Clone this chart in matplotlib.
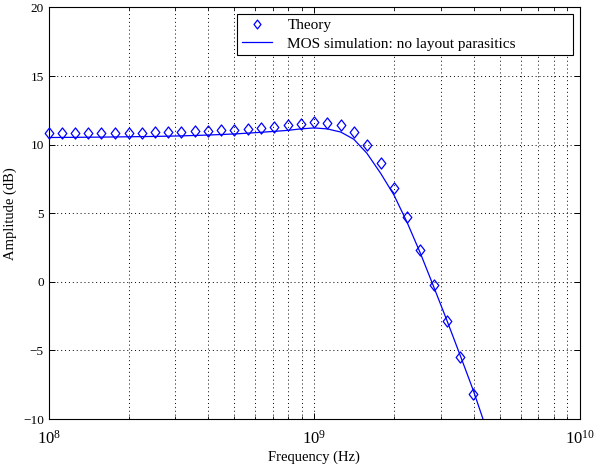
import numpy as np
import matplotlib
matplotlib.use("Agg")
import matplotlib.pyplot as plt
from matplotlib.path import Path

# theory points, 20 per decade (Hz) and amplitude (dB)
theory_freq = [1.00e8, 1.12e8, 1.26e8, 1.41e8, 1.58e8, 1.78e8, 2.00e8, 2.24e8,
               2.51e8, 2.82e8, 3.16e8, 3.55e8, 3.98e8, 4.47e8, 5.01e8, 5.62e8,
               6.31e8, 7.08e8, 7.94e8, 8.91e8, 1.00e9, 1.12e9, 1.26e9, 1.41e9,
               1.58e9, 1.78e9, 2.00e9, 2.24e9, 2.51e9, 2.82e9, 3.16e9, 3.55e9,
               3.98e9]
theory_db = [10.83, 10.83, 10.83, 10.84, 10.85, 10.85, 10.86, 10.88,
             10.89, 10.92, 10.94, 10.97, 11.00, 11.04, 11.08, 11.14,
             11.22, 11.32, 11.43, 11.53, 11.62, 11.57, 11.40, 10.90,
             10.00, 8.68, 6.86, 4.70, 2.30, -0.25, -2.82, -5.47,
             -8.16]

# MOS simulation curve
sim_freq = [1.00e8, 1.58e8, 2.51e8, 3.16e8, 3.98e8, 5.01e8, 6.31e8, 7.94e8,
            8.91e8, 1.00e9, 1.12e9, 1.26e9, 1.41e9, 1.58e9, 1.78e9, 2.00e9,
            2.24e9, 2.51e9, 2.82e9, 3.16e9, 3.55e9, 3.98e9, 4.47e9]
sim_db = [10.52, 10.55, 10.60, 10.64, 10.70, 10.78, 10.90, 11.04,
          11.15, 11.22, 11.15, 10.92, 10.40, 9.38, 7.92, 6.32,
          4.34, 2.12, -0.34, -2.78, -5.35, -7.92, -10.8]

plt.rcParams["font.family"] = ["Liberation Serif", "DejaVu Serif"]
plt.rcParams["mathtext.fontset"] = "stix"

# slightly tall diamond, like the matlab one
diamond = Path([(0, 1), (0.78, 0), (0, -1), (-0.78, 0), (0, 1)],
               [Path.MOVETO, Path.LINETO, Path.LINETO, Path.LINETO, Path.CLOSEPOLY])

fig = plt.figure(figsize=(5.97, 4.68), dpi=100)
ax = fig.add_axes([0.0816, 0.1047, 0.8891, 0.8793])

ax.plot(theory_freq, theory_db, linestyle="none", marker=diamond, markersize=8,
        markerfacecolor="none", markeredgecolor="#0000ff", markeredgewidth=0.9,
        label="Theory", clip_on=False, zorder=3)
ax.plot(sim_freq, sim_db, color="#0000ff", linewidth=0.9,
        label="MOS simulation: no layout parasitics")

ax.set_xscale("log")
ax.set_xlim(1e8, 1e10)
ax.set_ylim(-10, 20)
ax.set_yticks([-10, -5, 0, 5, 10, 15, 20])

ax.grid(True, which="major", axis="both", color="black", linestyle=(0, (1, 3)), linewidth=0.7)
ax.grid(True, which="minor", axis="x", color="black", linestyle=(0, (1, 3)), linewidth=0.7)

ax.tick_params(which="both", direction="in", top=True, right=True)
ax.tick_params(axis="y", labelsize=9.5)
ax.tick_params(axis="x", labelsize=12)
ax.tick_params(which="major", length=4, width=0.7)
ax.tick_params(which="minor", length=2.5, width=0.6)
ax.tick_params(axis="x", which="major", pad=8)
for s in ax.spines.values():
    s.set_linewidth(0.8)
    s.set_color("black")

ax.set_xlabel("Frequency (Hz)", fontsize=10.5, labelpad=2)
ax.set_ylabel("Amplitude (dB)", fontsize=10.5, labelpad=4)

leg = ax.legend(loc="upper left", bbox_to_anchor=(0.3547, 0.8894, 0.633, 0.0948),
                mode="expand", borderaxespad=0, fontsize=11, fancybox=False,
                framealpha=1, edgecolor="black", handlelength=2.0, handletextpad=1.0,
                borderpad=0.3, labelspacing=0.3, markerscale=0.8)
leg.get_frame().set_linewidth(0.8)

fig.savefig("out.png", dpi=100)
